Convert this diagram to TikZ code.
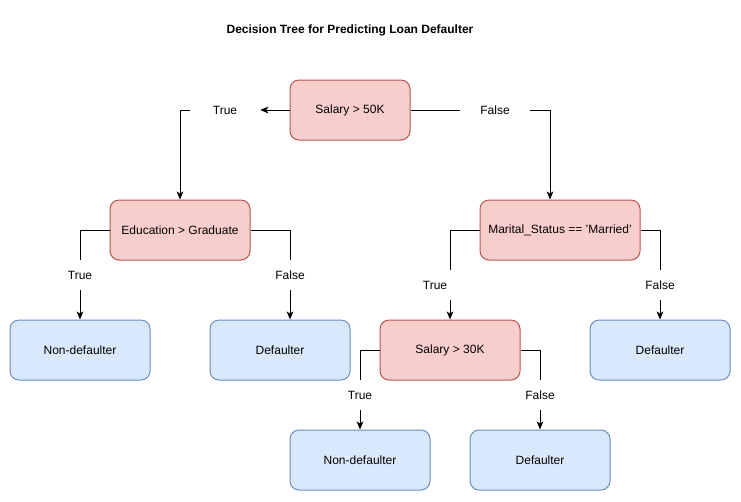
\documentclass[tikz,border=0pt]{standalone}
\usepackage{fontspec}
\setmainfont{Liberation Sans}
\usetikzlibrary{arrows.meta,calc}
\definecolor{redfill}{HTML}{F8CECC}
\definecolor{redline}{HTML}{B85450}
\definecolor{bluefill}{HTML}{DAE8FC}
\definecolor{blueline}{HTML}{6C8EBF}
\begin{document}
\begin{tikzpicture}[x=0.75pt,y=-0.75pt,
  every node/.style={font=\fontsize{9pt}{11pt}\selectfont, inner sep=0pt},
  decision/.style={draw=redline, fill=redfill, line width=0.75pt, rounded corners=6.75pt, minimum height=45pt},
  leafbox/.style={draw=blueline, fill=bluefill, line width=0.75pt, rounded corners=6.75pt, minimum height=45pt, minimum width=105pt},
  lab/.style={minimum width=45pt, minimum height=22.5pt},
  conn/.style={line width=0.75pt, draw=black},
  arr/.style={conn, -{Stealth[length=6pt,width=5pt,inset=1.5pt]}}
]
\useasboundingbox (0,0) rectangle (741,501);
\node[font=\fontsize{9pt}{11pt}\selectfont\bfseries] (title) at (350,30) {Decision Tree for Predicting Loan Defaulter};

\node[decision, minimum width=90pt] (s50) at (350,110) {Salary > 50K};
\node[lab, minimum width=52.5pt] (t1) at (225,110) {True};
\node[lab, minimum width=52.5pt] (f1) at (495,110) {False};

\node[decision, minimum width=105pt] (edu) at (180,230) {Education > Graduate};
\node[decision, minimum width=120pt] (mar) at (560,230) {Marital\_Status == 'Married'};

\node[lab] (tEdu) at (80,275) {True};
\node[lab] (fEdu) at (290,275) {False};
\node[lab] (tMar) at (435,285) {True};
\node[lab] (fMar) at (660,285) {False};

\node[leafbox] (nd1) at (80,350) {Non-defaulter};
\node[leafbox] (d1) at (280,350) {Defaulter};
\node[decision, minimum width=105pt] (s30) at (450,350) {Salary > 30K};
\node[leafbox] (d2) at (660,350) {Defaulter};

\node[lab] (tS30) at (360,395) {True};
\node[lab] (fS30) at (540,395) {False};

\node[leafbox] (nd2) at (360,460) {Non-defaulter};
\node[leafbox] (d3) at (540,460) {Defaulter};

% top level
\draw[arr] (s50.west) -- (t1.east);
\draw[arr] (t1.west) -| (edu.north);
\draw[conn] (s50.east) -- (f1.west);
\coordinate (marin) at ($(mar.north)+(-10,0)$);
\draw[arr] (f1.east) -| (marin);

% education
\draw[conn] (edu.west) -| (tEdu.north);
\draw[arr] (tEdu.south) -- (nd1.north);
\draw[conn] (edu.east) -| (fEdu.north);
\draw[arr] (fEdu.south) -- (fEdu.south |- d1.north);

% marital
\draw[conn] (mar.west) -| (s30.north |- tMar.north);
\draw[arr] (s30.north |- tMar.south) -- (s30.north);
\draw[conn] (mar.east) -| (fMar.north);
\draw[arr] (fMar.south) -- (d2.north);

% salary 30k
\draw[conn] (s30.west) -| (tS30.north);
\draw[arr] (tS30.south) -- (nd2.north);
\draw[conn] (s30.east) -| (fS30.north);
\draw[arr] (fS30.south) -- (d3.north);
\end{tikzpicture}
\end{document}
